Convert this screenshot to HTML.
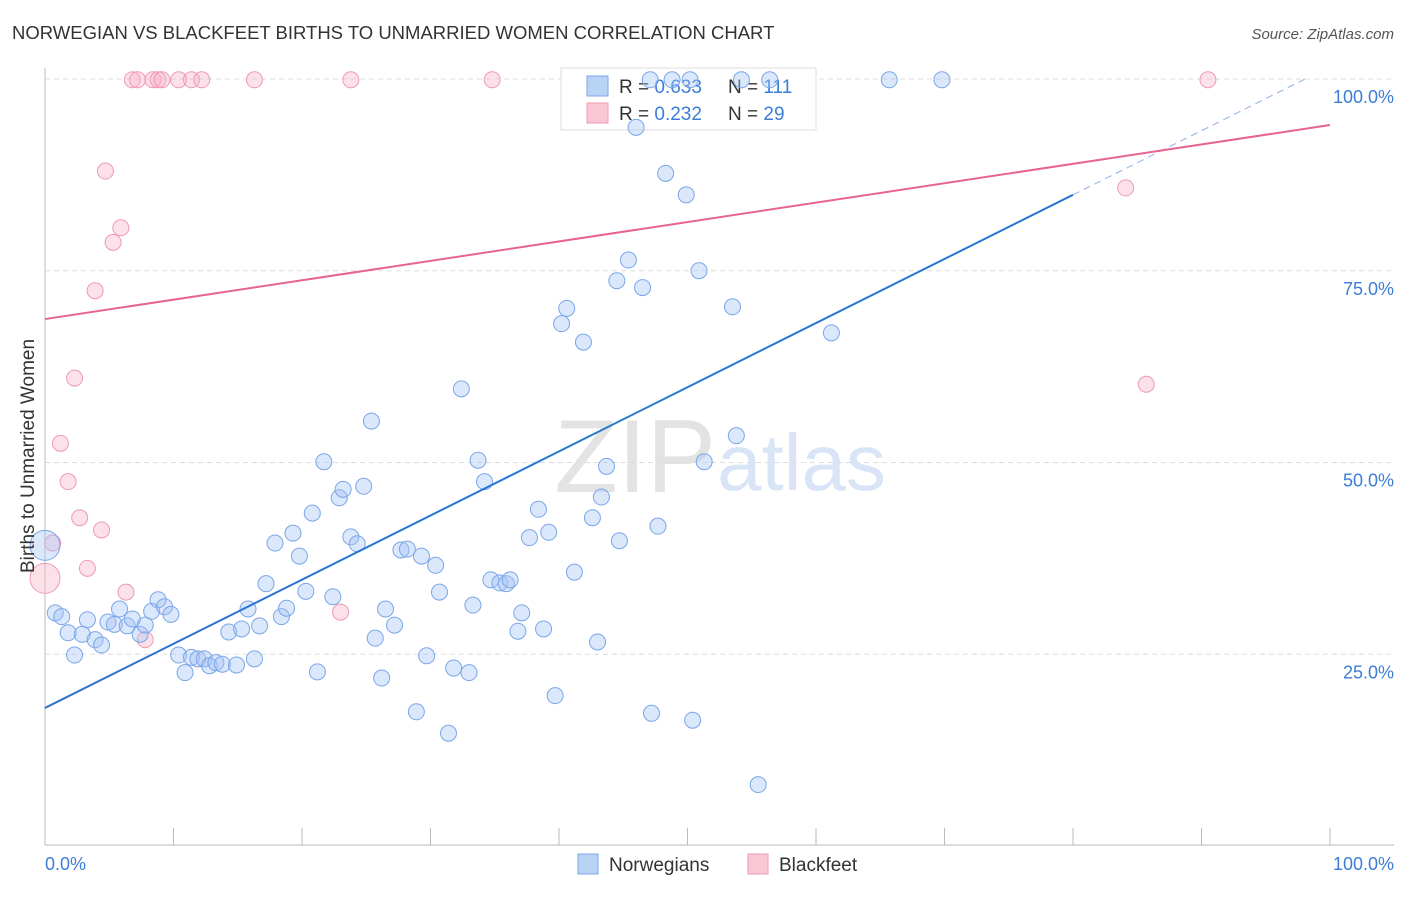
<!DOCTYPE html>
<html><head><meta charset="utf-8">
<style>
body{margin:0;background:#fff;font-family:"Liberation Sans",sans-serif;}
svg text{font-family:"Liberation Sans",sans-serif;}
</style></head>
<body>
<svg id="chart" width="1406" height="892" viewBox="0 0 1406 892">
<text x="12" y="39" font-size="18.5" fill="#333">NORWEGIAN VS BLACKFEET BIRTHS TO UNMARRIED WOMEN CORRELATION CHART</text>
<text x="1394" y="39" font-size="15" fill="#555" text-anchor="end" font-style="italic">Source: ZipAtlas.com</text>
<text x="716" y="492" font-size="104" fill="#d8d8d8" text-anchor="end" font-family="Liberation Serif" opacity="0.7">ZIP</text>
<text x="717" y="490" font-size="80" fill="#c9dbf3" opacity="0.7">atlas</text>
<g id="grid"></g>
<g>
<rect x="561" y="68" width="255" height="62" fill="#fff" stroke="#ddd"/>
<rect x="587" y="76" width="21" height="20" fill="#b9d3f5" stroke="#7aa6e8"/>
<rect x="587" y="103" width="21" height="20" fill="#f9c6d5" stroke="#ee9ab5"/>
<text x="619" y="93" font-size="19" fill="#333">R = <tspan fill="#3b7dd8">0.633</tspan></text>
<text x="728" y="93" font-size="19" fill="#333">N = <tspan fill="#3b7dd8">111</tspan></text>
<text x="619" y="120" font-size="19" fill="#333">R = <tspan fill="#3b7dd8">0.232</tspan></text>
<text x="728" y="120" font-size="19" fill="#333">N = <tspan fill="#3b7dd8">29</tspan></text>
</g>
<g id="pts"></g>
<g id="lines"></g>
<text x="0" y="0" transform="translate(34,456) rotate(-90)" font-size="19" fill="#333" text-anchor="middle">Births to Unmarried Women</text>
<text x="45" y="870" font-size="18" fill="#3b7dd8">0.0%</text>
<text x="1394" y="870" font-size="18" fill="#3b7dd8" text-anchor="end">100.0%</text>
<g>
<rect x="578" y="854" width="20" height="20" fill="#b9d3f5" stroke="#7aa6e8"/>
<text x="609" y="871" font-size="19" fill="#333">Norwegians</text>
<rect x="748" y="854" width="20" height="20" fill="#f9c6d5" stroke="#ee9ab5"/>
<text x="779" y="871" font-size="19" fill="#333">Blackfeet</text>
</g>
</svg>
<script>
const yTicks=[25,50,75,100];
const yTickLabels=["25.0%","50.0%","75.0%","100.0%"];
const xTicks=[0,10,20,30,40,50,60,70,80,90,100];
const blueX=[0.8,1.3,1.8,2.3,2.9,3.3,3.9,4.4,4.9,5.4,5.8,6.4,6.8,7.4,7.8,8.3,8.8,9.3,9.8,10.4,10.9,11.4,11.9,12.4,12.8,13.3,13.8,14.3,14.9,15.3,15.8,16.3,16.7,17.2,17.9,18.4,18.8,19.3,19.8,20.3,20.8,21.2,21.7,22.4,22.9,23.2,23.8,24.3,24.8,25.4,25.7,26.2,26.5,27.2,27.7,28.2,28.9,29.3,29.7,30.4,30.7,31.4,31.8,32.4,33.0,33.3,33.7,34.2,34.7,35.4,35.9,36.2,36.8,37.1,37.7,38.4,38.8,39.2,39.7,40.2,40.6,41.2,41.9,42.6,43.0,43.3,43.7,44.5,44.7,45.4,46.5,47.2,47.7,48.3,49.9,50.4,50.9,51.3,53.5,53.8,55.5,61.2,65.7,69.8,46.0,47.1,48.8,50.2,54.2,56.4,0];
const blueY=[30.4,29.9,27.8,24.9,27.6,29.5,26.9,26.2,29.2,28.9,30.9,28.7,29.6,27.6,28.8,30.6,32.1,31.2,30.2,24.9,22.6,24.6,24.4,24.4,23.5,23.9,23.7,27.9,23.6,28.3,30.9,24.4,28.7,34.2,39.5,29.9,31.0,40.8,37.8,33.2,43.4,22.7,50.1,32.5,45.4,46.5,40.3,39.4,46.9,55.4,27.1,21.9,30.9,28.8,38.6,38.7,17.5,37.8,24.8,36.6,33.1,14.7,23.2,59.6,22.6,31.4,50.3,47.5,34.7,34.3,34.2,34.7,28.0,30.4,40.2,43.9,28.3,40.9,19.6,68.1,70.1,35.7,65.7,42.8,26.6,45.5,49.5,73.7,39.8,76.4,72.8,17.3,41.7,87.7,84.9,16.4,75.0,50.1,70.3,53.5,8.0,66.9,99.9,99.9,93.7,99.9,99.9,99.9,99.9,99.9,39.2];
const pinkX=[0,0.6,1.2,1.8,2.3,2.7,3.3,4.4,4.7,5.3,5.9,3.9,6.3,7.8,6.8,7.2,8.4,8.8,9.1,10.4,11.4,12.2,16.3,23.8,34.8,23.0,84.1,85.7,90.5];
const pinkY=[34.9,39.5,52.5,47.5,61.0,42.8,36.2,41.2,88.0,78.7,80.6,72.4,33.1,26.9,99.9,99.9,99.9,99.9,99.9,99.9,99.9,99.9,99.9,99.9,99.9,30.5,85.8,60.2,99.9];
const blueTrend=[18.0,84.9]; // y at x=0 and x=80
const pinkTrend=[68.7,94.0]; // y at x=0 and x=100
const NS="http://www.w3.org/2000/svg";
const sx=v=>45+v*12.85, sy=v=>846-v*7.67;
function mk(t,a,p){const e=document.createElementNS(NS,t);for(const k in a)e.setAttribute(k,a[k]);p.appendChild(e);return e;}
const grid=document.getElementById('grid');
yTicks.forEach((t,i)=>{
 const l=mk('line',{x1:45,x2:1394,y1:sy(t),y2:sy(t),stroke:'#ddd','stroke-dasharray':'5,4'},grid);
 
 
 const tx=mk('text',{x:1394,y:sy(t)+24,'font-size':18,fill:'#3b7dd8','text-anchor':'end'},grid);
 tx.textContent=yTickLabels[i];
 
 
});
const ax=mk('line',{x1:45,x2:1394,y1:845,y2:845,stroke:'#bbb'},grid);


const ay=mk('line',{x1:45,x2:45,y1:68,y2:845,stroke:'#bbb'},grid);


xTicks.forEach(t=>{
 const l=mk('line',{x1:sx(t),x2:sx(t),y1:828,y2:845,stroke:'#bbb'},grid);
 
 
});
const pts=document.getElementById('pts');
function dots(X,Y,fill,stroke,name){
 X.forEach((x,i)=>{
  const big=(x===0);
  const c=mk('circle',{cx:sx(x),cy:sy(Y[i]),r:big?15:8,fill:fill,stroke:stroke,'stroke-width':1},pts);
  
  
 });
}
dots(pinkX,pinkY,'rgba(248,180,200,0.4)','#ee9ab5','blackfeet-point');
dots(blueX,blueY,'rgba(164,194,244,0.4)','#7aa6e8','norwegian-point');
const lines=document.getElementById('lines');
const slope=(blueTrend[1]-blueTrend[0])/80;
const b1=mk('line',{x1:sx(0),y1:sy(blueTrend[0]),x2:sx(80),y2:sy(blueTrend[1]),stroke:'#2a74d6','stroke-width':2},lines);


const xe=98.3;
const b2=mk('line',{x1:sx(80),y1:sy(blueTrend[1]),x2:sx(xe),y2:sy(blueTrend[0]+slope*xe),stroke:'#8fb2e6','stroke-width':1,'stroke-dasharray':'7,5'},lines);


const p1=mk('line',{x1:sx(0),y1:sy(pinkTrend[0]),x2:sx(100),y2:sy(pinkTrend[1]),stroke:'#e8648f','stroke-width':2},lines);


</script>
</body></html>
